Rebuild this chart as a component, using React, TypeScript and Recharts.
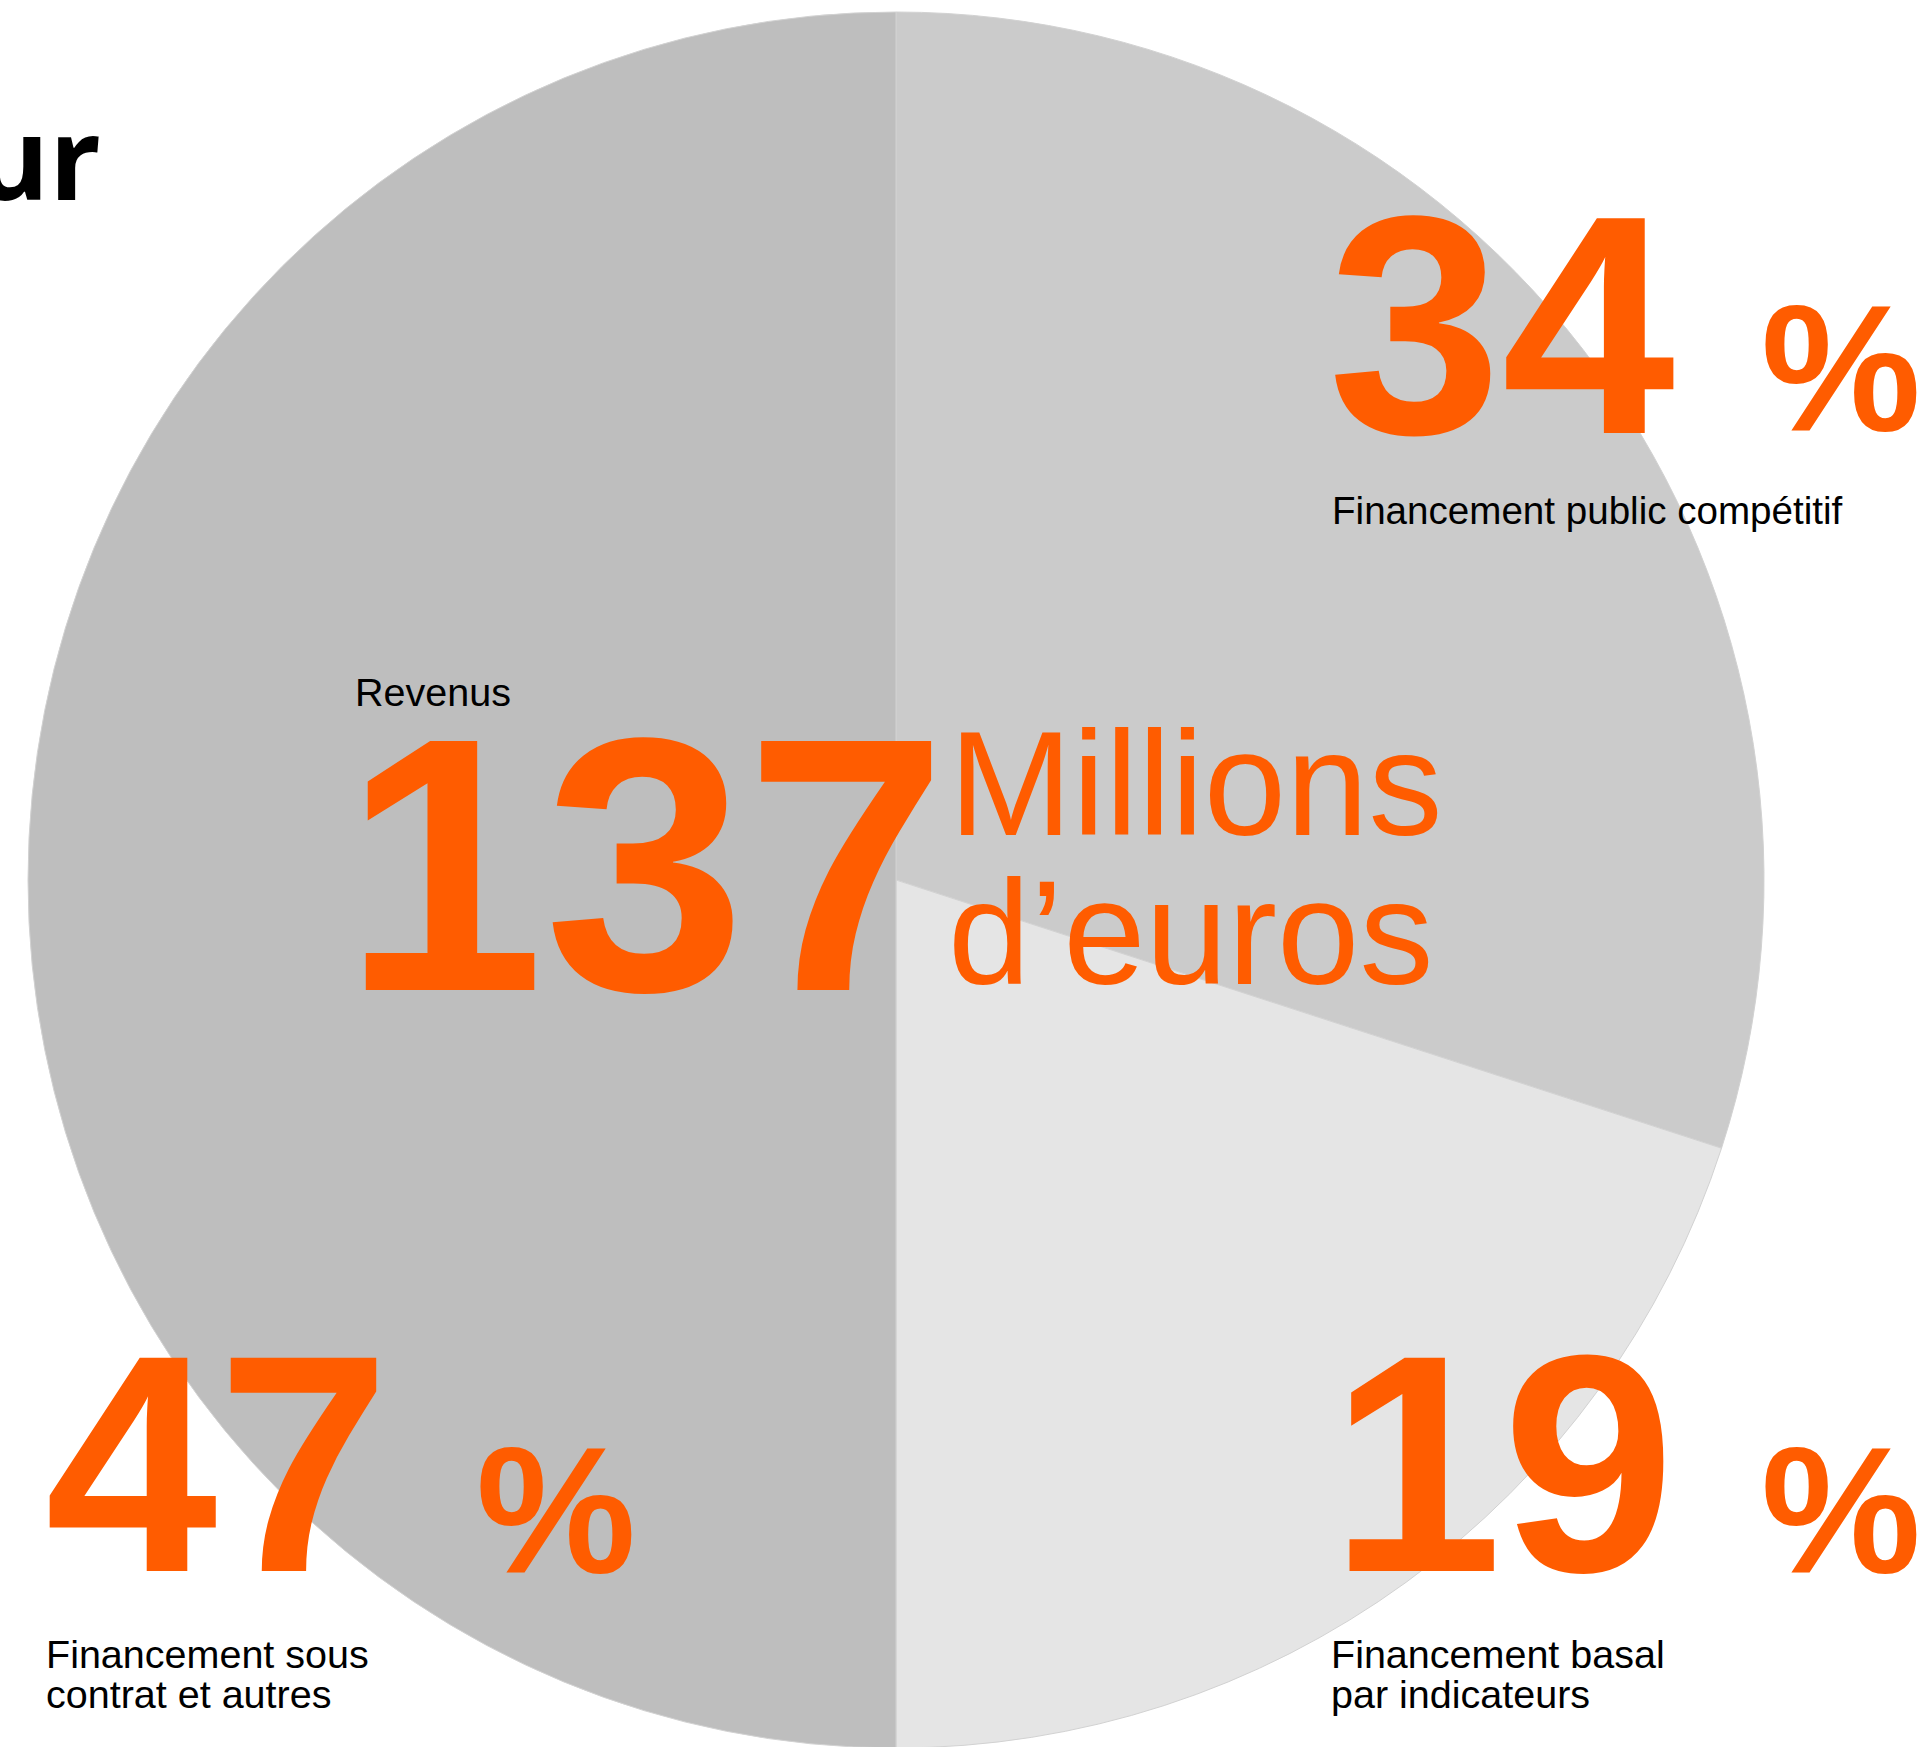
import { PieChart, Pie, Cell } from "recharts";

// slices in drawing order, clockwise from 12 o'clock
const categories = [
  "Financement public compétitif",
  "Financement basal par indicateurs",
  "Financement sous contrat et autres",
];
// shares as the wedges are drawn in the picture
const sliceShares = [30, 20, 50];
// percentages printed on the picture
const percentLabels = ["34", "19", "47"];
const totalRevenue = "137";

const SLICE_COLORS = ["#cbcbcb", "#e5e5e5", "#bebebe"];
const ORANGE = "#ff5c00";
const FONT = "'Liberation Sans', Arial, sans-serif";

const pieData = categories.map((name, i) => ({ name, value: sliceShares[i] }));

function Overlay() {
  return (
    <svg
      width={1930}
      height={1747}
      style={{ position: "absolute", left: 0, top: 0, pointerEvents: "none" }}
    >
      <text
        x={101}
        y={200}
        textAnchor="end"
        fontFamily="'Open Sans', sans-serif"
        fontWeight={700}
        fontSize={114}
        fill="#000"
      >
        ur
      </text>

      {/* centre total */}
      <text x={355} y={706} fontFamily={FONT} fontSize={39.5} fill="#000">
        Revenus
      </text>
      <text x={343} y={990} fontFamily={FONT} fontWeight={700} fontSize={362} fill={ORANGE}>
        {totalRevenue}
      </text>
      <text x={949} y={835} fontFamily={FONT} fontSize={148} fill={ORANGE}>
        Millions
      </text>
      <text x={948} y={984} fontFamily={FONT} fontSize={148} fill={ORANGE}>
        d’euros
      </text>

      {/* top right */}
      <text x={1328} y={433} fontFamily={FONT} fontWeight={700} fontSize={312} fill={ORANGE}>
        {percentLabels[0]}
      </text>
      <text x={1761} y={431} fontFamily={FONT} fontWeight={700} fontSize={180} fill={ORANGE}>
        %
      </text>
      <text x={1332} y={524} fontFamily={FONT} fontSize={38.6} fill="#000">
        {categories[0]}
      </text>

      {/* bottom right */}
      <text x={1330} y={1571} fontFamily={FONT} fontWeight={700} fontSize={310} fill={ORANGE}>
        {percentLabels[1]}
      </text>
      <text x={1761} y={1573} fontFamily={FONT} fontWeight={700} fontSize={180} fill={ORANGE}>
        %
      </text>
      <text fontFamily={FONT} fontSize={39.5} fill="#000">
        <tspan x={1331} y={1668}>Financement basal</tspan>
        <tspan x={1331} y={1708}>par indicateurs</tspan>
      </text>

      {/* bottom left */}
      <text x={45} y={1571} fontFamily={FONT} fontWeight={700} fontSize={310} fill={ORANGE}>
        {percentLabels[2]}
      </text>
      <text x={476} y={1573} fontFamily={FONT} fontWeight={700} fontSize={180} fill={ORANGE}>
        %
      </text>
      <text fontFamily={FONT} fontSize={39.5} fill="#000">
        <tspan x={46} y={1668}>Financement sous</tspan>
        <tspan x={46} y={1708}>contrat et autres</tspan>
      </text>
    </svg>
  );
}

export default function App() {
  return (
    <div
      style={{
        position: "absolute",
        left: 0,
        top: 0,
        width: 1930,
        height: 1747,
        background: "#fff",
        overflow: "hidden",
      }}
    >
      <PieChart width={1930} height={1747} margin={{ top: 0, right: 0, bottom: 0, left: 0 }}>
        <Pie
          data={pieData}
          dataKey="value"
          nameKey="name"
          cx={896}
          cy={880}
          outerRadius={868}
          startAngle={90}
          endAngle={-270}
          stroke="#d2d2d2"
          strokeWidth={1}
          isAnimationActive={false}
        >
          {pieData.map((d, i) => (
            <Cell key={d.name} fill={SLICE_COLORS[i]} />
          ))}
        </Pie>
      </PieChart>
      <Overlay />
    </div>
  );
}
